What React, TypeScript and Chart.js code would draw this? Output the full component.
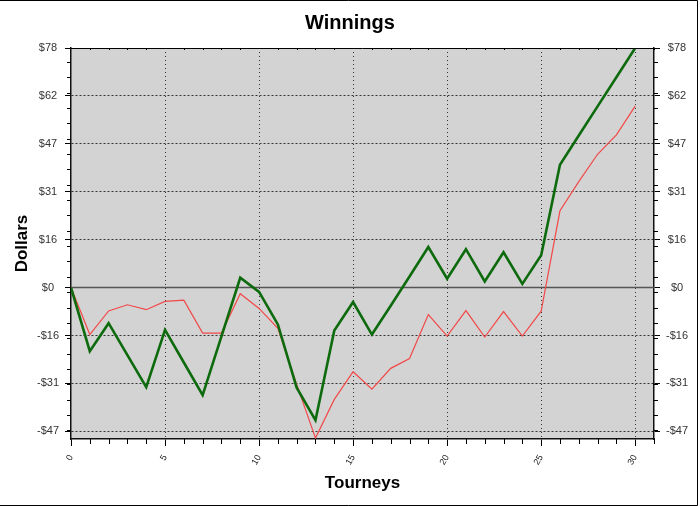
import React, { useEffect, useRef } from "react";
import { Chart, registerables } from "chart.js";

Chart.register(...registerables);

const tourneys: number[] = Array.from({ length: 31 }, (_, i) => i);
const greenSeries: number[] = [
  0, -20.7, -11.6, -22, -32.4, -13.8, -24.4, -35, -15.9, 3.2, -1.4, -12, -32.6, -43.2, -14, -4.7,
  -15.3, -5.9, 3.6, 13.2, 2.9, 12.5, 2.0, 11.5, 1.2, 10.5, 40, 49.5, 59, 68.5, 78,
];
const redSeries: number[] = [
  0, -15.3, -7.6, -5.6, -7.2, -4.5, -4.1, -14.8, -14.8, -2.0, -6.8, -13.3, -31.5, -49, -36.4, -27.4,
  -33.1, -26.3, -23.1, -8.8, -15.8, -7.5, -16.1, -7.8, -15.8, -7.7, 25, 34.5, 43.4, 49.7, 59.1,
];
const yTickValues: number[] = [-46.8, -31.2, -15.6, 0, 15.6, 31.2, 46.8, 62.4, 78];
const yTickLabels: string[] = ["-$47", "-$31", "-$16", "$0", "$16", "$31", "$47", "$62", "$78"];
const xTickValues: number[] = [0, 5, 10, 15, 20, 25, 30];
const xTickLabels: string[] = ["0", "5", "10", "15", "20", "25", "30"];

const Y_MIN = -49.3;
const Y_MAX = 78;
const X_MIN = 0;
const X_MAX = 31;

const FONT = "'Liberation Sans', Arial, sans-serif";

const decorPlugin = {
  id: "decor",
  beforeDraw(chart: any) {
    const { ctx, chartArea: a } = chart;
    ctx.save();
    ctx.fillStyle = "#ffffff";
    ctx.fillRect(0, 0, chart.width, chart.height);
    ctx.fillStyle = "#d3d3d3";
    ctx.fillRect(a.left, a.top, a.right - a.left, a.bottom - a.top);
    ctx.restore();
  },
  beforeDatasetsDraw(chart: any) {
    const { ctx, chartArea: a } = chart;
    const y0 = chart.scales.y.getPixelForValue(0);
    ctx.save();
    ctx.strokeStyle = "#555555";
    ctx.lineWidth = 1.5;
    ctx.beginPath();
    ctx.moveTo(a.left, y0);
    ctx.lineTo(a.right, y0);
    ctx.stroke();
    ctx.restore();
  },
  afterDraw(chart: any) {
    const { ctx, chartArea: a } = chart;
    const ys = chart.scales.y;
    const xs = chart.scales.x;
    ctx.save();
    ctx.strokeStyle = "#000000";
    ctx.lineWidth = 1;
    ctx.beginPath();
    for (let v = 3.5 - 5 * 20; v <= Y_MAX; v += 5) {
      if (v < Y_MIN) continue;
      const py = Math.round(ys.getPixelForValue(v)) + 0.5;
      ctx.moveTo(a.left - 4, py);
      ctx.lineTo(a.left, py);
      ctx.moveTo(a.right, py);
      ctx.lineTo(a.right + 4, py);
    }
    for (let i = X_MIN; i <= X_MAX; i++) {
      if (i % 5 === 0) continue;
      const px = Math.round(xs.getPixelForValue(i)) + 0.5;
      ctx.moveTo(px, a.bottom);
      ctx.lineTo(px, a.bottom + 5);
      ctx.moveTo(px, a.top);
      ctx.lineTo(px, a.top + 2);
    }
    ctx.stroke();
    ctx.beginPath();
    ctx.moveTo(a.left, a.top + 0.5);
    ctx.lineTo(a.right, a.top + 0.5);
    ctx.stroke();
    ctx.beginPath();
    ctx.moveTo(0, 0.5);
    ctx.lineTo(chart.width - 2.5, 0.5);
    ctx.lineTo(chart.width - 2.5, chart.height - 0.5);
    ctx.lineTo(0, chart.height - 0.5);
    ctx.stroke();
    ctx.restore();
  },
};

export default function App() {
  const ref = useRef<HTMLCanvasElement | null>(null);
  useEffect(() => {
    document.body.style.margin = "0";
    const canvas = ref.current;
    if (!canvas) return;
    Chart.defaults.font.family = FONT;
    const chart = new Chart(canvas, {
      type: "line",
      data: {
        labels: tourneys,
        datasets: [
          {
            label: "Green",
            data: tourneys.map((x, i) => ({ x, y: greenSeries[i] })),
            borderColor: "#0d6a0d",
            borderWidth: 2.6,
            pointRadius: 0,
            tension: 0,
          },
          {
            label: "Red",
            data: tourneys.map((x, i) => ({ x, y: redSeries[i] })),
            borderColor: "#f24848",
            borderWidth: 1.2,
            pointRadius: 0,
            tension: 0,
          },
        ],
      },
      plugins: [decorPlugin],
      options: {
        animation: false,
        responsive: false,
        maintainAspectRatio: false,
        layout: { padding: 0 },
        plugins: {
          legend: { display: false },
          tooltip: { enabled: false },
          title: {
            display: true,
            text: "Winnings",
            color: "#000",
            font: { size: 20, weight: "bold", family: FONT, lineHeight: 1.2 },
            padding: { top: 11, bottom: 13 },
          },
        },
        scales: {
          x: {
            type: "linear",
            position: "bottom",
            min: X_MIN,
            max: X_MAX,
            afterBuildTicks: (s: any) => {
              s.ticks = xTickValues.map((v) => ({ value: v }));
            },
            afterFit: (s: any) => {
              s.height = 67;
            },
            ticks: {
              autoSkip: false,
              minRotation: 60,
              maxRotation: 60,
              padding: 7,
              color: "#222",
              font: { size: 9, family: FONT },
              callback: (v: any) => {
                const idx = xTickValues.indexOf(Number(v));
                return idx >= 0 ? xTickLabels[idx] : "";
              },
            },
            grid: {
              display: true,
              drawOnChartArea: true,
              drawTicks: true,
              tickLength: 7,
              tickColor: "#000",
              color: (c: any) => (c.tick && c.tick.value === 0 ? "rgba(0,0,0,0)" : "#333"),
              lineWidth: 1,
            },
            border: { display: true, color: "#111", width: 1.5, dash: [1, 3] },
            title: {
              display: true,
              text: "Tourneys",
              color: "#000",
              font: { size: 17, weight: "bold", family: FONT, lineHeight: 1.2 },
              padding: { top: 0, bottom: 12.8 },
            },
          },
          y: {
            type: "linear",
            position: "left",
            min: Y_MIN,
            max: Y_MAX,
            afterBuildTicks: (s: any) => {
              s.ticks = yTickValues.map((v) => ({ value: v }));
            },
            afterFit: (s: any) => {
              s.width = 71;
            },
            ticks: {
              autoSkip: false,
              crossAlign: "center",
              padding: 6,
              color: "#333",
              font: { size: 11, family: FONT },
              callback: (v: any) => {
                const idx = yTickValues.indexOf(Number(v));
                return idx >= 0 ? yTickLabels[idx] : "";
              },
            },
            grid: {
              display: true,
              drawOnChartArea: true,
              drawTicks: true,
              tickLength: 6,
              tickColor: "#000",
              color: (c: any) => (c.tick && c.tick.value === 0 ? "rgba(0,0,0,0)" : "#333"),
              lineWidth: 1,
            },
            border: { display: true, color: "#111", width: 1.5, dash: [2, 2] },
            title: {
              display: true,
              text: "Dollars",
              color: "#000",
              font: { size: 17, weight: "bold", family: FONT, lineHeight: 1.2 },
              padding: { top: 12, bottom: 0 },
            },
          },
          y2: {
            type: "linear",
            position: "right",
            min: Y_MIN,
            max: Y_MAX,
            afterBuildTicks: (s: any) => {
              s.ticks = yTickValues.map((v) => ({ value: v }));
            },
            afterFit: (s: any) => {
              s.width = 46;
            },
            ticks: {
              autoSkip: false,
              crossAlign: "center",
              padding: 6,
              color: "#333",
              font: { size: 11, family: FONT },
              callback: (v: any) => {
                const idx = yTickValues.indexOf(Number(v));
                return idx >= 0 ? yTickLabels[idx] : "";
              },
            },
            grid: {
              display: true,
              drawOnChartArea: false,
              drawTicks: true,
              tickLength: 6,
              tickColor: "#000",
            },
            border: { display: true, color: "#111", width: 1.5 },
          },
        },
      },
    });
    return () => chart.destroy();
  }, []);
  return <canvas ref={ref} width={700} height={506} style={{ display: "block" }} />;
}
